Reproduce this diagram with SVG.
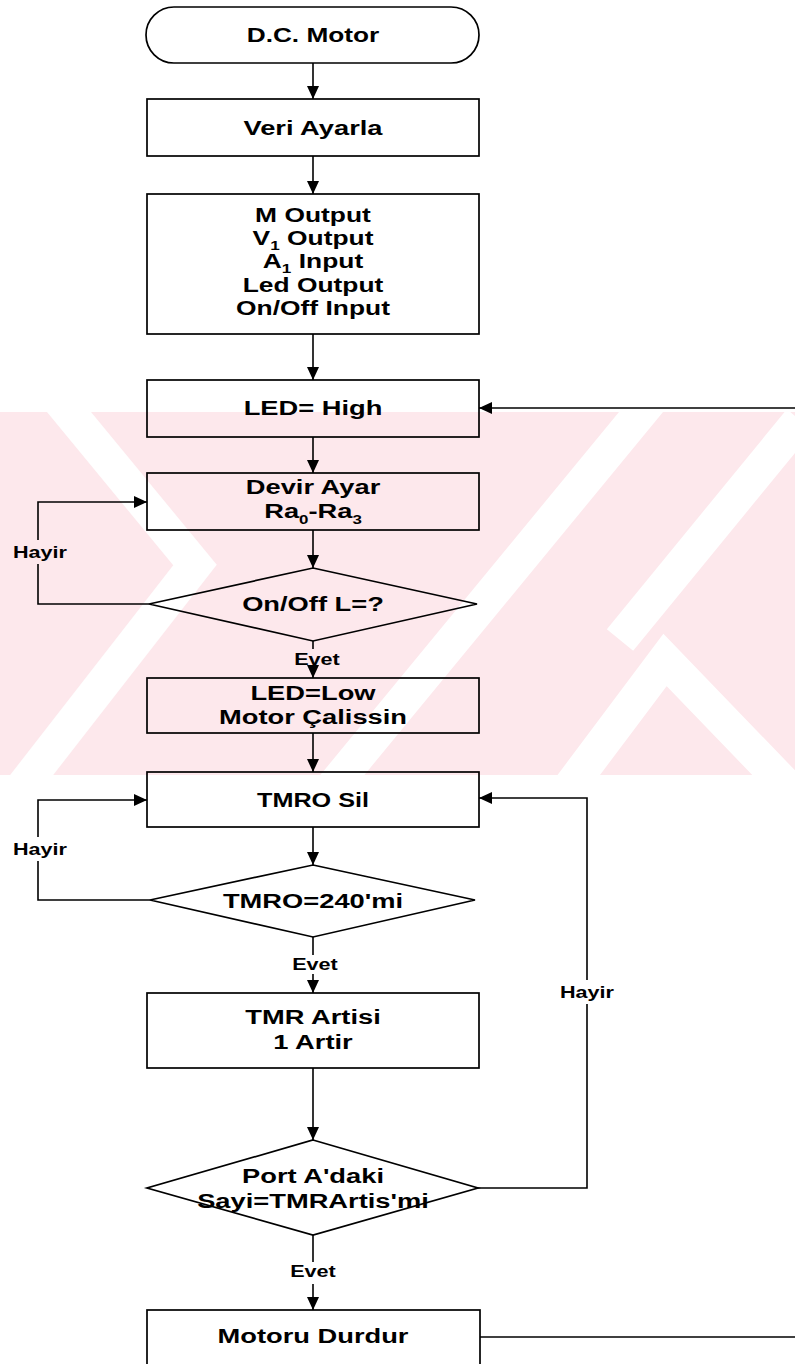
<svg xmlns="http://www.w3.org/2000/svg" width="795" height="1364" viewBox="0 0 795 1364">
<defs>
<marker id="ah" markerUnits="userSpaceOnUse" markerWidth="14" markerHeight="12" refX="13" refY="6" orient="auto">
<path d="M0,0 L13,6 L0,12 Z" fill="#000"/>
</marker>
<clipPath id="wmclip"><rect x="0" y="412" width="795" height="363"/></clipPath>
</defs>
<style>
.shape{fill:none;stroke:#000;stroke-width:1.7}
.conn{fill:none;stroke:#000;stroke-width:1.6}
.arr{fill:none;stroke:#000;stroke-width:1.6;marker-end:url(#ah)}
.t{font-family:"Liberation Sans",Arial,sans-serif;font-weight:bold;font-size:21px;fill:#000;text-anchor:middle}
.io{font-size:20px}
.s{font-size:13px}
.lbl{font-family:"Liberation Sans",Arial,sans-serif;font-weight:bold;font-size:16px;fill:#000;text-anchor:middle}
.wm{fill:none;stroke:#fff;stroke-width:34}
</style>
<rect x="0" y="0" width="795" height="1364" fill="#fff"/>
<g id="watermark" clip-path="url(#wmclip)">
<rect x="0" y="412" width="795" height="363" fill="#fde8ec"/>
<polyline class="wm" points="55,395 195,565 20,790"/>
<line class="wm" x1="655" y1="395" x2="330" y2="790"/>
<line class="wm" x1="800" y1="420" x2="620" y2="640"/>
<polyline class="wm" points="560,800 665,660 800,800"/>
</g>
<g id="connectors">
<line class="arr" x1="313" y1="63" x2="313" y2="99"/>
<line class="arr" x1="313" y1="156" x2="313" y2="194"/>
<line class="arr" x1="313" y1="334" x2="313" y2="380"/>
<line class="arr" x1="313" y1="437" x2="313" y2="473"/>
<line class="arr" x1="313" y1="530" x2="313" y2="568"/>
<line class="conn" x1="313" y1="641" x2="313" y2="649"/>
<line class="arr" x1="313" y1="667" x2="313" y2="678"/>
<polyline class="conn" points="149,604 38,604 38,564"/>
<polyline class="arr" points="38,540 38,502 147,502"/>
<line class="arr" x1="795" y1="408" x2="479" y2="408"/>
<line class="arr" x1="313" y1="733" x2="313" y2="772"/>
<line class="arr" x1="313" y1="827" x2="313" y2="865"/>
<polyline class="conn" points="150,900 38,900 38,861"/>
<polyline class="arr" points="38,837 38,800 147,800"/>
<line class="conn" x1="313" y1="937" x2="313" y2="955"/>
<line class="arr" x1="313" y1="974" x2="313" y2="993"/>
<line class="arr" x1="313" y1="1068" x2="313" y2="1140"/>
<polyline class="conn" points="478,1188 587,1188 587,1004"/>
<polyline class="arr" points="587,980 587,798 479,798"/>
<line class="conn" x1="313" y1="1235" x2="313" y2="1262"/>
<line class="arr" x1="313" y1="1284" x2="313" y2="1310"/>
<line class="conn" x1="480" y1="1337" x2="795" y2="1337"/>
<text class="lbl" transform="translate(40,558) scale(1.35,1)">Hayir</text>
<text class="lbl" transform="translate(317,665) scale(1.35,1)">Evet</text>
<text class="lbl" transform="translate(40,855) scale(1.35,1)">Hayir</text>
<text class="lbl" transform="translate(315,970) scale(1.35,1)">Evet</text>
<text class="lbl" transform="translate(587,998) scale(1.35,1)">Hayir</text>
<text class="lbl" transform="translate(313,1277) scale(1.35,1)">Evet</text>
</g>
<g id="n-start"><rect class="shape" x="146" y="7" width="333" height="56" rx="28" ry="28"/><text class="t" transform="translate(313,42) scale(1.25,1)">D.C. Motor</text></g>
<g id="n-veri"><rect class="shape" x="147" y="99" width="332" height="57"/><text class="t" transform="translate(313,135) scale(1.3,1)">Veri Ayarla</text></g>
<g id="n-io"><rect class="shape" x="147" y="194" width="332" height="140"/>
<text class="t io" transform="translate(313,222) scale(1.32,1)">M Output</text>
<text class="t io" transform="translate(313,245) scale(1.32,1)">V<tspan class="s" dy="5">1</tspan><tspan dy="-5"> Output</tspan></text>
<text class="t io" transform="translate(313,268) scale(1.32,1)">A<tspan class="s" dy="5">1</tspan><tspan dy="-5"> Input</tspan></text>
<text class="t io" transform="translate(313,291.5) scale(1.32,1)">Led Output</text>
<text class="t io" transform="translate(313,315) scale(1.32,1)">On/Off Input</text>
</g>
<g id="n-ledhigh"><rect class="shape" x="147" y="380" width="332" height="57"/><text class="t" transform="translate(313,415) scale(1.3,1)">LED= High</text></g>
<g id="n-devir"><rect class="shape" x="147" y="473" width="332" height="57"/>
<text class="t" transform="translate(313,494) scale(1.3,1)">Devir Ayar</text>
<text class="t" transform="translate(313,518) scale(1.3,1)">Ra<tspan class="s" dy="6">0</tspan><tspan dy="-6">-Ra</tspan><tspan class="s" dy="6">3</tspan></text>
</g>
<g id="n-onoff"><polygon class="shape" points="313,568 477,604 313,641 149,604"/><text class="t" transform="translate(313,611) scale(1.3,1)">On/Off L=?</text></g>
<g id="n-ledlow"><rect class="shape" x="147" y="678" width="332" height="55"/>
<text class="t" transform="translate(313,700) scale(1.3,1)">LED=Low</text>
<text class="t" transform="translate(313,724) scale(1.3,1)">Motor Çalissin</text>
</g>
<g id="n-tmrosil"><rect class="shape" x="147" y="772" width="332" height="55"/><text class="t" transform="translate(313,807) scale(1.2,1)">TMRO Sil</text></g>
<g id="n-tmro240"><polygon class="shape" points="313,865 475,900 313,937 150,900"/><text class="t" transform="translate(313,908) scale(1.3,1)">TMRO=240'mi</text></g>
<g id="n-tmrartis"><rect class="shape" x="147" y="993" width="332" height="75"/>
<text class="t" transform="translate(313,1024) scale(1.3,1)">TMR Artisi</text>
<text class="t" transform="translate(313,1049) scale(1.3,1)">1 Artir</text>
</g>
<g id="n-porta"><polygon class="shape" points="313,1140 478,1188 313,1235 147,1188"/>
<text class="t" transform="translate(313,1183) scale(1.3,1)">Port A'daki</text>
<text class="t" transform="translate(313,1208) scale(1.3,1)">Sayi=TMRArtis'mi</text>
</g>
<g id="n-durdur"><rect class="shape" x="147" y="1310" width="333" height="80"/><text class="t" transform="translate(313,1343) scale(1.3,1)">Motoru Durdur</text></g>
</svg>
